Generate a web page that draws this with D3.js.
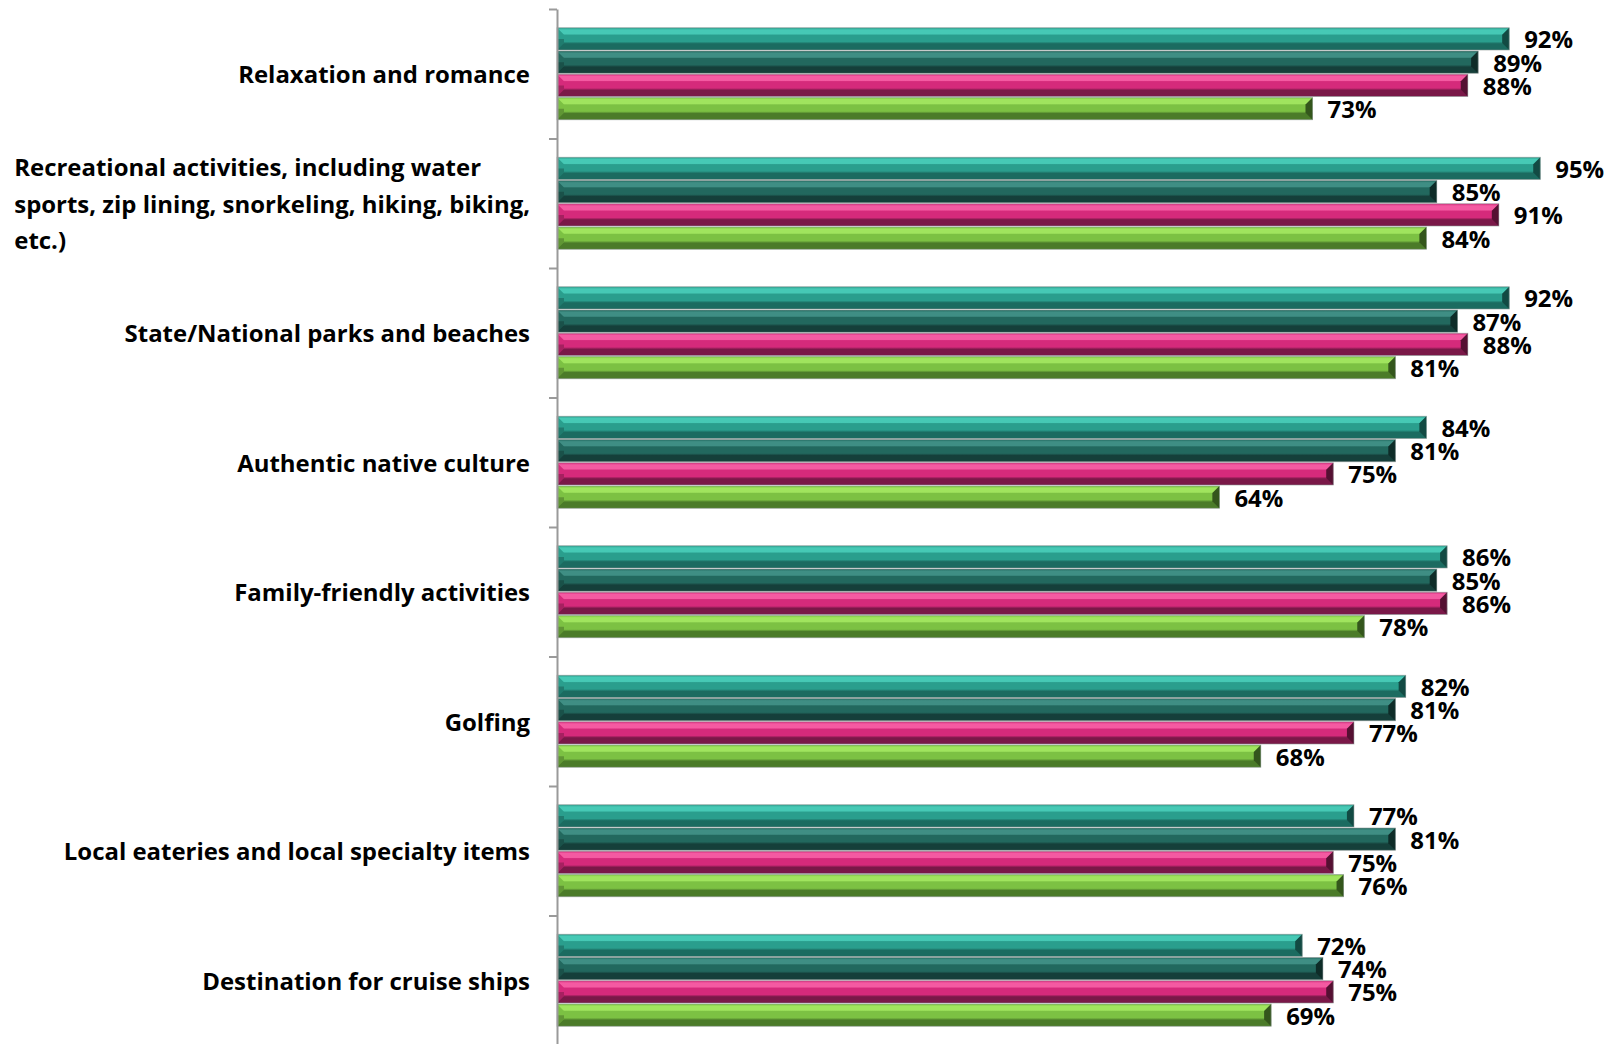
<!DOCTYPE html>
<html>
<head>
<meta charset="utf-8">
<script src="https://cdn.jsdelivr.net/npm/d3@7"></script>
<style>
  html, body { margin: 0; padding: 0; background: #ffffff; }
  svg { display: block; }
  text { font-family: "Open Sans", Lato, sans-serif; font-weight: bold; fill: #000; }
</style>
</head>
<body>
<svg id="chart" width="1612" height="1044"></svg>
<script>
// ---- Data ----
const categories = [
  "Relaxation and romance",
  "Recreational activities, including water sports, zip lining, snorkeling, hiking, biking, etc.)",
  "State/National parks and beaches",
  "Authentic native culture",
  "Family-friendly activities",
  "Golfing",
  "Local eateries and local specialty items",
  "Destination for cruise ships"
];
const categoryLines = [
  ["Relaxation and romance"],
  ["Recreational activities, including water", "sports, zip lining, snorkeling, hiking, biking,", "etc.)"],
  ["State/National parks and beaches"],
  ["Authentic native culture"],
  ["Family-friendly activities"],
  ["Golfing"],
  ["Local eateries and local specialty items"],
  ["Destination for cruise ships"]
];
const seriesNames = ["Series 1", "Series 2", "Series 3", "Series 4"];
const series1 = [92, 95, 92, 84, 86, 82, 77, 72];
const series2 = [89, 85, 87, 81, 85, 81, 81, 74];
const series3 = [88, 91, 88, 75, 86, 77, 75, 75];
const series4 = [73, 84, 81, 64, 78, 68, 76, 69];
const seriesValues = [series1, series2, series3, series4];

// ---- Style ----
const palette = [
  { light: "#46c9b5", mid: "#2a9e8d", dark: "#1b6b60" },
  { light: "#3f8e84", mid: "#22685e", dark: "#153f3a" },
  { light: "#f45aa2", mid: "#d52a7b", dark: "#7a1848" },
  { light: "#a0e45e", mid: "#7cc143", dark: "#4b7b29" }
];

const W = 1612, H = 1044;
const axisX = 557;
const svg = d3.select("#chart");
const defs = svg.append("defs");

// font size fitted so the text width matches the reference's Calibri metrics
const probe = svg.append("text").attr("font-size", 24).text(categories[0]);
const fitK = 292 / probe.node().getComputedTextLength();
probe.remove();
const catFont = 24 * fitK;
const valFont = 24 * fitK;

palette.forEach((p, i) => {
  const g = defs.append("linearGradient")
    .attr("id", "grad" + i).attr("x1", 0).attr("y1", 0).attr("x2", 0).attr("y2", 1);
  [[0, p.mid], [0.1, p.light], [0.28, p.light], [0.33, p.mid], [0.62, p.mid], [0.72, p.dark], [1, p.dark]]
    .forEach(([o, c]) => g.append("stop").attr("offset", o).attr("stop-color", c));
});

const x = d3.scaleLinear().domain([0, 100]).range([axisX, axisX + 1035]);
const y0 = d3.scaleBand().domain(d3.range(categories.length)).range([9, 1045]).padding(0);
const groupPad = 18.25;
const y1 = d3.scaleBand().domain(d3.range(seriesValues.length))
  .range([groupPad, y0.bandwidth() - groupPad]).padding(0);

// bars
const bevel = 7;
const groups = svg.append("g").selectAll("g.cat")
  .data(categories.map((c, ci) => ({ ci })))
  .join("g").attr("class", "cat")
  .attr("transform", d => `translate(0,${y0(d.ci)})`);

groups.each(function(d) {
  const g = d3.select(this);
  seriesValues.forEach((vals, si) => {
    const v = vals[d.ci];
    const x0 = x(0), x1 = x(v);
    const top = y1(si) + 0.5, h = y1.bandwidth() - 1, bot = top + h;
    const b = Math.min(bevel, h / 2);
    const bg = g.append("g");
    bg.append("rect").attr("x", x0).attr("y", top).attr("width", x1 - x0).attr("height", h)
      .attr("fill", `url(#grad${si})`);
    // left bevel face
    bg.append("path")
      .attr("d", `M${x0},${top} L${x0 + b},${top + b} L${x0 + b},${bot - b} L${x0},${bot} Z`)
      .attr("fill", palette[si].mid);
    bg.append("path")
      .attr("d", `M${x0},${top + h / 2} L${x0 + b},${top + h / 2} L${x0 + b},${bot - b} L${x0},${bot} Z`)
      .attr("fill", "#000").attr("opacity", 0.22);
    // right bevel face
    bg.append("path")
      .attr("d", `M${x1},${top} L${x1 - b},${top + b} L${x1 - b},${bot - b} L${x1},${bot} Z`)
      .attr("fill", palette[si].dark);
    bg.append("path")
      .attr("d", `M${x1},${top} L${x1 - b},${top + b} L${x1 - b},${bot - b} L${x1},${bot} Z`)
      .attr("fill", "#000").attr("opacity", 0.3);
    // outline
    bg.append("rect").attr("x", x0).attr("y", top).attr("width", x1 - x0).attr("height", h)
      .attr("fill", "none").attr("stroke", "#8c9694").attr("stroke-width", 0.8).attr("stroke-opacity", 0.7);
    // value label
    g.append("text")
      .attr("x", x1 + 15)
      .attr("y", top + h / 2)
      .attr("dominant-baseline", "central")
      .attr("font-size", valFont)
      .text(v + "%");
  });
});

// axis with ticks at category boundaries
const idx = d3.scaleLinear().domain([0, categories.length]).range([9, 1045]);
const axis = svg.append("g").attr("transform", `translate(${axisX},0)`)
  .call(d3.axisLeft(idx).tickValues(d3.range(categories.length + 1)).tickFormat("").tickSize(8).tickSizeOuter(0));
axis.selectAll("path, line").attr("stroke", "#9a9a9a").attr("stroke-width", 2);

// category labels
const labelRight = 530;
const lineH = 36.5;
categoryLines.forEach((lines, ci) => {
  const cy = y0(ci) + y0.bandwidth() / 2;
  const t = svg.append("text").attr("font-size", catFont).attr("text-anchor", "start");
  const n = lines.length;
  lines.forEach((ln, li) => {
    t.append("tspan").attr("x", 0).attr("y", cy + (li - (n - 1) / 2) * lineH)
      .attr("dominant-baseline", "central").text(ln);
  });
  const maxW = d3.max(t.selectAll("tspan").nodes(), n => n.getComputedTextLength());
  t.selectAll("tspan").attr("x", labelRight - maxW);
});
</script>
</body>
</html>
